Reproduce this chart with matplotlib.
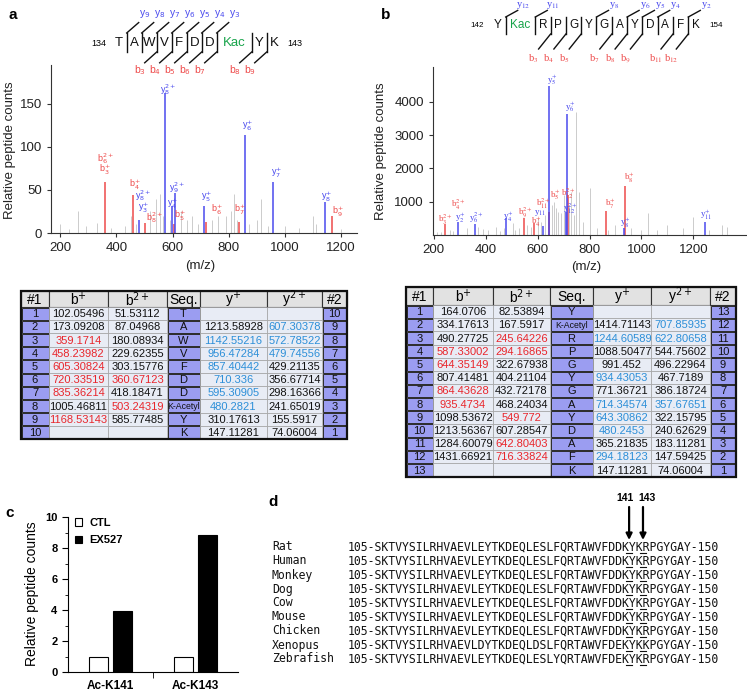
import matplotlib
matplotlib.use('Agg')
import numpy as np
import matplotlib.pyplot as plt
from matplotlib.patches import Rectangle

W, H = 747, 691
plt.rcParams['font.family'] = ['Liberation Sans', 'DejaVu Sans']

RED = '#ee4a4a'
BLUE = '#4a4aee'
TRED = '#e8262c'
TBLUE = '#2d8fd8'
GREEN = '#17a34a'
GREY = '#cccccc'
DARK = '#333333'

# ---------------- panel a: spectrum
a_grey_mz = [198, 230, 262, 290, 330, 380, 430, 452, 470, 520, 540, 555, 566, 590, 630, 650,
             668, 690, 740, 762, 790, 808, 818, 830, 870, 900, 915, 940, 1000, 1050, 1100, 1110, 1200]
a_grey_h = [10, 5, 25, 8, 12, 6, 8, 20, 10, 25, 40, 45, 20, 15, 25, 15,
            20, 10, 15, 20, 20, 25, 45, 15, 10, 15, 40, 8, 8, 6, 20, 10, 5]
a_b_mz = [359.17, 458.24, 503.24, 605.31, 720.34, 835.36, 1168.53]
a_b_h = [59, 44, 12, 10, 13, 13, 20]
a_y_mz = [480.28, 572.79, 597.31, 607.30, 710.34, 857.40, 956.47, 1142.55]
a_y_h = [15.5, 162, 31, 47, 31, 114, 59, 35.5]
a_lab = ['b$_6^{2+}$', 'b$_3^{+}$', 'b$_4^{+}$', 'y$^{2+}_8$', 'y$_3^{+}$', 'b$^{2+}_8$', 'y$_8^{2+}$',
         'y$^{2+}_9$', 'y$_4^{+}$', 'b$_5^{+}$', 'y$_5^{+}$', 'b$_6^{+}$', 'b$_7^{+}$', 'y$_6^{+}$',
         'y$_7^{+}$', 'y$_8^{+}$', 'b$_9^{+}$']
a_lab_mz = [360, 360, 466, 495, 495, 537, 584, 616, 598, 626, 722, 758, 839, 868, 971, 1149, 1189]
a_lab_y = [87, 73, 56, 44, 29, 18, 167, 53, 34, 20, 42, 27, 27, 124, 70, 42, 25]
a_lab_c = 'rrrbbrbbbrbrrbbbr'

# ---------------- panel b: spectrum
b_grey_mz = [215, 228, 262, 275, 330, 372, 392, 410, 440, 455, 470, 505, 515, 530, 560, 575, 600, 612,
             630, 655, 663, 672, 680, 690, 700, 722, 730, 740, 749, 760, 775, 801, 830, 870, 900, 960,
             1000, 1025, 1060, 1100, 1160, 1200, 1260, 1310, 1330]
b_grey_h = [100, 80, 150, 120, 200, 250, 180, 150, 250, 120, 200, 350, 150, 200, 300, 250, 500, 400,
            600, 900, 1000, 800, 700, 650, 1200, 900, 1300, 600, 3700, 1300, 400, 1400, 200, 150, 300, 200,
            150, 650, 150, 300, 200, 550, 150, 300, 250]
b_b_mz = [245.64, 549.77, 587.33, 642.80, 644.35, 716.34, 864.44, 935.47]
b_b_h = [320, 520, 360, 700, 700, 1200, 730, 1480]
b_y_mz = [294.18, 357.68, 480.25, 622.81, 643.31, 707.86, 714.35, 934.43, 1244.61]
b_y_h = [400, 330, 500, 270, 4480, 700, 3650, 200, 400]
b_lab = ['b$^{2+}_3$', 'b$_4^{2+}$', 'y$_2^{+}$', 'y$_6^{2+}$', 'y$_4^{+}$', 'b$^{2+}_9$', 'y$_{11}$',
         'b$_4^{+}$', 'b$^{2+}_{11}$', 'b$_5^{+}$', 'b$_{12}^{2+}$', 'y$^{2+}_{12}$', 'b$_7^{+}$',
         'b$_8^{+}$', 'y$_8^{+}$', 'y$_{11}^{+}$', 'y$_5^{+}$', 'y$_6^{+}$']
b_lab_mz = [245, 295, 303, 364, 487, 553, 610, 595, 622, 668, 720, 728, 880, 953, 937, 1248, 657, 726]
b_lab_y = [440, 920, 520, 530, 530, 680, 650, 385, 950, 1215, 1230, 780, 950, 1720, 350, 590, 4680, 3850]
b_lab_c = 'rrbbbrbrrrrbrrbbbb'

# ---------------- peptide diagrams
a_res = ['T', 'A', 'W', 'V', 'F', 'D', 'D', 'Kac', 'Y', 'K']
a_ends = ['134', '143']
a_y_after = [1, 2, 3, 4, 5, 6, 7]
a_y_num = [9, 8, 7, 6, 5, 4, 3]
a_b_after = [3, 4, 5, 6, 7, 8, 9]
a_b_num = [3, 4, 5, 6, 7, 8, 9]

b_res = ['Y', 'Kac', 'R', 'P', 'G', 'Y', 'G', 'A', 'Y', 'D', 'A', 'F', 'K']
b_ends = ['142', '154']
b_y_after = [1, 2, 6, 8, 9, 10, 12]
b_y_num = [12, 11, 8, 6, 5, 4, 2]
b_b_after = [3, 4, 5, 7, 8, 9, 11, 12]
b_b_num = [3, 4, 5, 7, 8, 9, 11, 12]

# ---------------- tables
tab_head = ['#1', 'b$^{+}$', 'b$^{2+}$', 'Seq.', 'y$^{+}$', 'y$^{2+}$', '#2']

ta_seq = ['T', 'A', 'W', 'V', 'F', 'D', 'D', 'K-Acetyl', 'Y', 'K']
ta_b1 = ['102.05496', '173.09208', '359.1714', '458.23982', '605.30824', '720.33519', '835.36214',
         '1005.46811', '1168.53143', '']
ta_b2 = ['51.53112', '87.04968', '180.08934', '229.62355', '303.15776', '360.67123', '418.18471',
         '503.24319', '585.77485', '']
ta_y1 = ['', '1213.58928', '1142.55216', '956.47284', '857.40442', '710.336', '595.30905',
         '480.2821', '310.17613', '147.11281']
ta_y2 = ['', '607.30378', '572.78522', '479.74556', '429.21135', '356.67714', '298.16366',
         '241.65019', '155.5917', '74.06004']
ta_c = ['kkrrrrrkrk', 'kkkkkrkrkk', 'kkbbbbbbkk', 'kbbbkkkkkk']

tb_seq = ['Y', 'K-Acetyl', 'R', 'P', 'G', 'Y', 'G', 'A', 'Y', 'D', 'A', 'F', 'K']
tb_b1 = ['164.0706', '334.17613', '490.27725', '587.33002', '644.35149', '807.41481', '864.43628',
         '935.4734', '1098.53672', '1213.56367', '1284.60079', '1431.66921', '']
tb_b2 = ['82.53894', '167.5917', '245.64226', '294.16865', '322.67938', '404.21104', '432.72178',
         '468.24034', '549.772', '607.28547', '642.80403', '716.33824', '']
tb_y1 = ['', '1414.71143', '1244.60589', '1088.50477', '991.452', '934.43053', '771.36721',
         '714.34574', '643.30862', '480.2453', '365.21835', '294.18123', '147.11281']
tb_y2 = ['', '707.85935', '622.80658', '544.75602', '496.22964', '467.7189', '386.18724',
         '357.67651', '322.15795', '240.62629', '183.11281', '147.59425', '74.06004']
tb_c = ['kkkrrkrrkkkkk', 'kkrrkkkkrkrrk', 'kkbkkbkbbbkbk', 'kbbkkkkbkkkkk']

# ---------------- panel c
c_groups = ['Ac-K141', 'Ac-K143']
c_ctl = [1.0, 1.0]
c_ex527 = [3.95, 8.85]

# ---------------- panel d
d_species = ['Rat', 'Human', 'Monkey', 'Dog', 'Cow', 'Mouse', 'Chicken', 'Xenopus', 'Zebrafish']
d_common = 'SKTVYSILRHVAEVLEYTKDEQLESLFQRTAWVFDDKYKRPGYGAY'
d_seqs = [d_common] * 7 + ['SKTVYSILRHVAEVLDYTKDEQLDSLFQRTAWVFDEKYKKPGYGAY',
                           'SKTVYSILRHVAEVLEYTKDEQLESLYQRTAWVFDEKYKRPGYGAY']
d_first, d_last = 105, 150
d_sites = [141, 143]


fig = plt.figure(figsize=(W / 100, H / 100), dpi=100)


def rect(x0, y0, x1, y1):
    return [x0 / W, 1 - y1 / H, (x1 - x0) / W, (y1 - y0) / H]


def spectrum(box, gmz, gh, bmz, bh, ymz, yh, lab, lmz, ly, lc, xlim, ylim, yticks, family, mfont):
    ax = fig.add_axes(rect(*box))
    ax.vlines(gmz, 0, gh, color=GREY, lw=0.7)
    ax.vlines(bmz, 0, bh, color=RED, lw=1.1)
    ax.vlines(ymz, 0, yh, color=BLUE, lw=1.1)
    for t, x, y, c in zip(lab, lmz, ly, lc):
        ax.text(x, y, t, color=RED if c == 'r' else BLUE, fontsize=6.5, ha='center', va='center',
                family=family, math_fontfamily=mfont)
    ax.set_xlim(*xlim)
    ax.set_ylim(*ylim)
    ax.set_xticks([200, 400, 600, 800, 1000, 1200])
    ax.set_yticks(yticks)
    ax.spines[['top', 'right']].set_visible(False)
    ax.spines[['left', 'bottom']].set_color(DARK)
    ax.tick_params(labelsize=9.5, colors=DARK, length=3, labelcolor='#222222')
    ax.patch.set_alpha(0)
    return ax


spectrum((51, 65, 357, 233), a_grey_mz, a_grey_h, a_b_mz, a_b_h, a_y_mz, a_y_h,
         a_lab, a_lab_mz, a_lab_y, a_lab_c, (167, 1256), (0, 195), [0, 50, 100, 150],
         ['Liberation Sans'], 'dejavusans')
spectrum((433, 67, 746, 235), b_grey_mz, b_grey_h, b_b_mz, b_b_h, b_y_mz, b_y_h,
         b_lab, b_lab_mz, b_lab_y, b_lab_c, (198, 1402), (0, 5050), [1000, 2000, 3000, 4000],
         ['Liberation Serif'], 'stix')


def ftext(x, y, s, **kw):
    fig.text(x / W, 1 - y / H, s, **kw)


ftext(10, 150, 'Relative peptide counts', rotation=90, ha='center', va='center', fontsize=9.5, color='#222222')
ftext(381, 151, 'Relative peptide counts', rotation=90, ha='center', va='center', fontsize=9.5, color='#222222')
ftext(200, 266, '(m/z)', ha='center', va='center', fontsize=9.5, color='#222222')
ftext(586, 267, '(m/z)', ha='center', va='center', fontsize=9.5, color='#222222')

# ---------------- panel c
axc = fig.add_axes(rect(68, 517, 238, 672))
xc = np.arange(len(c_groups))
axc.bar(xc - 0.14, c_ctl, 0.22, color='white', edgecolor='black', lw=0.8, label='CTL')
axc.bar(xc + 0.14, c_ex527, 0.22, color='black', edgecolor='black', lw=0.8, label='EX527')
axc.set_xlim(-0.5, 1.5)
axc.set_ylim(0, 10)
axc.set_xticks(xc, c_groups, fontweight='bold', fontsize=8.5)
axc.set_xticks([0.5], minor=True)
axc.tick_params(axis='x', which='major', length=0, pad=6)
axc.tick_params(axis='x', which='minor', length=4)
axc.set_yticks([0, 2, 4, 6, 8, 10])
axc.set_yticks([1, 3, 5, 7, 9], minor=True)
axc.tick_params(axis='y', which='major', length=4, labelsize=8)
axc.tick_params(axis='y', which='minor', length=2)
for lb in axc.get_yticklabels():
    lb.set_fontweight('bold')
axc.spines[['top', 'right']].set_visible(False)
axc.legend(loc='upper left', bbox_to_anchor=(-0.02, 1.06), frameon=False,
           prop={'weight': 'bold', 'size': 8}, handlelength=0.7, handleheight=0.7,
           labelspacing=0.7, handletextpad=0.6)
ftext(32, 594, 'Relative peptide counts', rotation=90, ha='center', va='center', fontsize=10)

# ---------------- overlay (sequence diagrams, tables, panel d)
ov = fig.add_axes([0, 0, 1, 1])
ov.set_xlim(0, W)
ov.set_ylim(H, 0)
ov.axis('off')

for lab, x, y in [('a', 13, 15), ('b', 386, 15), ('c', 10, 513), ('d', 273, 502)]:
    ov.text(x, y, lab, fontsize=11, fontweight='bold', ha='center', va='center')


def peptide(res, ends, y_after, y_num, b_after, b_num, x0, slot, kslot, yc, top, bot,
            ty, by, sl, lfs, rfs, family, mfont):
    bounds = [x0]
    for r in res:
        w = kslot if r == 'Kac' else slot
        ov.text(bounds[-1] + w / 2, yc, r, ha='center', va='center', fontsize=rfs,
                color=GREEN if r == 'Kac' else '#111111')
        bounds.append(bounds[-1] + w)
    ov.text(x0 - 13, yc, ends[0], ha='center', va='center', fontsize=rfs * 0.68)
    ov.text(bounds[-1] + 13, yc, ends[1], ha='center', va='center', fontsize=rfs * 0.68)
    for i in sorted(set(y_after) | set(b_after)):
        xb = bounds[i]
        ov.plot([xb, xb], [top, bot], color='#111111', lw=1.0)
    for i, n in zip(y_after, y_num):
        xb = bounds[i]
        ov.plot([xb, xb + sl], [top, top - (top - ty) * 0.55], color='#111111', lw=1.0)
        ov.text(xb + sl + 6, ty, 'y$_{%d}$' % n, color=BLUE, ha='center', va='center',
                fontsize=lfs, family=family, math_fontfamily=mfont)
    for i, n in zip(b_after, b_num):
        xb = bounds[i]
        ov.plot([xb, xb - sl], [bot, bot + (by - bot) * 0.6], color='#111111', lw=1.0)
        ov.text(xb - sl - 5, by, 'b$_{%d}$' % n, color=RED, ha='center', va='center',
                fontsize=lfs, family=family, math_fontfamily=mfont)


peptide(a_res, a_ends, a_y_after, a_y_num, a_b_after, a_b_num, 111.7, 15, 35, 43, 33, 52,
        14, 70, 12, 7.5, 9.5, ['Liberation Sans'], 'dejavusans')
peptide(b_res, b_ends, b_y_after, b_y_num, b_b_after, b_b_num, 490.4, 15.3, 29.6, 25, 17, 34,
        5, 59, 12, 7.5, 8.5, ['Liberation Serif'], 'stix')


def table(edges, top, hh, rh, seq, cols, codes):
    n = len(seq)
    tcol = {'k': '#111111', 'r': TRED, 'b': TBLUE}
    for j in range(7):
        x0, x1 = edges[j], edges[j + 1]
        ov.add_patch(Rectangle((x0, top), x1 - x0, hh, fc='#e2e2e2', ec=DARK, lw=0.8))
        ov.text((x0 + x1) / 2, top + hh / 2 + 0.5, tab_head[j], ha='center', va='center', fontsize=10)
        for i in range(n):
            y0 = top + hh + i * rh
            if j in (0, 3, 6):
                ov.add_patch(Rectangle((x0 + 0.5, y0 + 0.5), x1 - x0 - 1, rh - 1, fc='#9b9df1', ec='#2a2a2a', lw=0.7))
                if j == 0:
                    s = str(i + 1)
                elif j == 6:
                    s = str(n - i)
                else:
                    s = seq[i]
                fs = 6.3 if len(s) > 3 else 8
                ov.text((x0 + x1) / 2, y0 + rh / 2 + 0.5, s, ha='center', va='center', fontsize=fs, color='#111111')
            else:
                k = {1: 0, 2: 1, 4: 2, 5: 3}[j]
                ov.add_patch(Rectangle((x0, y0), x1 - x0, rh, fc='#e8ecf5', ec='#a0a0a0', lw=0.5))
                ov.text((x0 + x1) / 2, y0 + rh / 2 + 0.5, cols[k][i], ha='center', va='center',
                        fontsize=8, color=tcol[codes[k][i]])
    ov.add_patch(Rectangle((edges[0], top), edges[-1] - edges[0], hh + n * rh, fc='none', ec='#111111', lw=1.6))


table([21, 49, 108, 167, 200, 267, 322, 347], 291, 16, 13.2, ta_seq, [ta_b1, ta_b2, ta_y1, ta_y2], ta_c)
table([406, 433, 493, 550, 593, 651, 710, 736], 287, 18, 13.2, tb_seq, [tb_b1, tb_b2, tb_y1, tb_y2], tb_c)

# ---------------- panel d
fs_d = 8.3
cw = fs_d * 100 / 72 * 0.6021
xs = 348
for i, (sp, sq) in enumerate(zip(d_species, d_seqs)):
    yy = 547 + 14 * i
    ov.text(272, yy, sp, family='DejaVu Sans Mono', fontsize=fs_d, ha='left', va='center', color='#111111')
    ov.text(xs, yy, '%d-%s-%d' % (d_first, sq, d_last), family='DejaVu Sans Mono', fontsize=fs_d,
            ha='left', va='center', color='#111111')
    for site in d_sites:
        k = 4 + site - d_first
        ov.plot([xs + k * cw + 0.5, xs + (k + 1) * cw - 0.5], [yy + 6, yy + 6], color='#111111', lw=0.8)

for site, dx in zip(d_sites, [-4, 4]):
    xa = xs + (4 + site - d_first + 0.5) * cw
    ov.annotate('', xy=(xa, 540), xytext=(xa, 507),
                arrowprops=dict(arrowstyle='-|>', lw=1.6, color='black', mutation_scale=9, shrinkA=0, shrinkB=0))
    ov.text(xa + dx, 498, str(site), ha='center', va='center', fontsize=7.5, fontweight='bold')

fig.savefig('out.png', dpi=100)
